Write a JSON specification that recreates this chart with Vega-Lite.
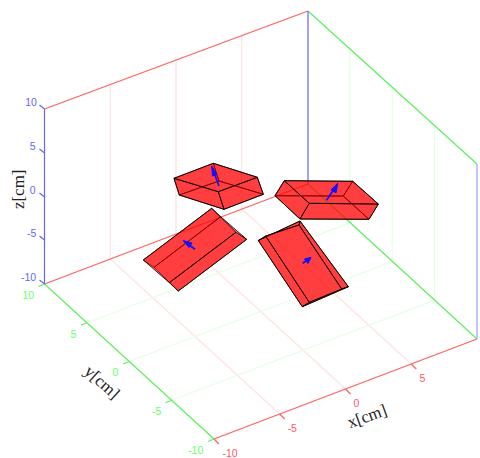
{
"$schema":"https://vega.github.io/schema/vega-lite/v6.json",
"width":480,"height":458,"padding":0,
"autosize":{"type":"fit","contains":"padding"},
"config":{"view":{"stroke":null}},
"background":"white",
"resolve":{"scale":{"color":"independent"}},
"datasets":{
"frame":[
{"id":"gx1","kind":"xgrid","seq":1,"h":279.75,"v":414},{"id":"gx1","kind":"xgrid","seq":2,"h":110.25,"v":259},{"id":"gx1","kind":"xgrid","seq":3,"h":110.25,"v":84},
{"id":"gx2","kind":"xgrid","seq":1,"h":345.5,"v":389},{"id":"gx2","kind":"xgrid","seq":2,"h":176,"v":234},{"id":"gx2","kind":"xgrid","seq":3,"h":176,"v":59},
{"id":"gx3","kind":"xgrid","seq":1,"h":411.25,"v":364},{"id":"gx3","kind":"xgrid","seq":2,"h":241.75,"v":209},{"id":"gx3","kind":"xgrid","seq":3,"h":241.75,"v":34},
{"id":"gy1","kind":"ygrid","seq":1,"h":86.9,"v":322.75},{"id":"gy1","kind":"ygrid","seq":2,"h":349.9,"v":222.75},{"id":"gy1","kind":"ygrid","seq":3,"h":349.9,"v":47.75},
{"id":"gy2","kind":"ygrid","seq":1,"h":129.25,"v":361.5},{"id":"gy2","kind":"ygrid","seq":2,"h":392.25,"v":261.5},{"id":"gy2","kind":"ygrid","seq":3,"h":392.25,"v":86.5},
{"id":"gy3","kind":"ygrid","seq":1,"h":171.6,"v":400.25},{"id":"gy3","kind":"ygrid","seq":2,"h":434.6,"v":300.25},{"id":"gy3","kind":"ygrid","seq":3,"h":434.6,"v":125.25},
{"id":"e1","kind":"xaxis","seq":1,"h":214,"v":439},{"id":"e1","kind":"xaxis","seq":2,"h":477,"v":339},
{"id":"e2","kind":"xaxis","seq":1,"h":44.5,"v":284},{"id":"e2","kind":"xaxis","seq":2,"h":308,"v":184},
{"id":"e3","kind":"xaxis","seq":1,"h":44.5,"v":109},{"id":"e3","kind":"xaxis","seq":2,"h":308,"v":11},
{"id":"e4","kind":"yaxis","seq":1,"h":44.5,"v":284},{"id":"e4","kind":"yaxis","seq":2,"h":214,"v":439},
{"id":"e5","kind":"yaxis","seq":1,"h":308,"v":184},{"id":"e5","kind":"yaxis","seq":2,"h":477,"v":339},
{"id":"e6","kind":"yaxis","seq":1,"h":308,"v":11},{"id":"e6","kind":"yaxis","seq":2,"h":477,"v":164},
{"id":"e7","kind":"zaxis","seq":1,"h":44.5,"v":284},{"id":"e7","kind":"zaxis","seq":2,"h":44.5,"v":109},
{"id":"e8","kind":"zaxis","seq":1,"h":308,"v":184},{"id":"e8","kind":"zaxis","seq":2,"h":308,"v":11},
{"id":"e9","kind":"zedge","seq":1,"h":477,"v":339},{"id":"e9","kind":"zedge","seq":2,"h":477,"v":164},
{"id":"tz1","kind":"zaxis","seq":1,"h":39.5,"v":105},{"id":"tz1","kind":"zaxis","seq":2,"h":44.5,"v":109},
{"id":"tz2","kind":"zaxis","seq":1,"h":39.5,"v":149},{"id":"tz2","kind":"zaxis","seq":2,"h":44.5,"v":153},
{"id":"tz3","kind":"zaxis","seq":1,"h":39.5,"v":193},{"id":"tz3","kind":"zaxis","seq":2,"h":44.5,"v":197},
{"id":"tz4","kind":"zaxis","seq":1,"h":39.5,"v":236},{"id":"tz4","kind":"zaxis","seq":2,"h":44.5,"v":240},
{"id":"tz5","kind":"zaxis","seq":1,"h":39.5,"v":280},{"id":"tz5","kind":"zaxis","seq":2,"h":44.5,"v":284},
{"id":"tx1","kind":"xaxis","seq":1,"h":214,"v":439},{"id":"tx1","kind":"xaxis","seq":2,"h":219,"v":444},
{"id":"tx2","kind":"xaxis","seq":1,"h":279.75,"v":414},{"id":"tx2","kind":"xaxis","seq":2,"h":284.75,"v":419},
{"id":"tx3","kind":"xaxis","seq":1,"h":345.5,"v":389},{"id":"tx3","kind":"xaxis","seq":2,"h":350.5,"v":394},
{"id":"tx4","kind":"xaxis","seq":1,"h":411.25,"v":364},{"id":"tx4","kind":"xaxis","seq":2,"h":416.25,"v":369},
{"id":"ty1","kind":"yaxis","seq":1,"h":44.5,"v":284},{"id":"ty1","kind":"yaxis","seq":2,"h":38.5,"v":286.5},
{"id":"ty2","kind":"yaxis","seq":1,"h":86.9,"v":322.75},{"id":"ty2","kind":"yaxis","seq":2,"h":80.9,"v":325.25},
{"id":"ty3","kind":"yaxis","seq":1,"h":129.25,"v":361.5},{"id":"ty3","kind":"yaxis","seq":2,"h":123.25,"v":364},
{"id":"ty4","kind":"yaxis","seq":1,"h":171.6,"v":400.25},{"id":"ty4","kind":"yaxis","seq":2,"h":165.6,"v":402.75},
{"id":"ty5","kind":"yaxis","seq":1,"h":214,"v":439},{"id":"ty5","kind":"yaxis","seq":2,"h":208,"v":441.5}
],
"faces":[
{"id":"a1","seq":1,"h":174,"v":178.3},{"id":"a1","seq":2,"h":213.3,"v":163.3},{"id":"a1","seq":3,"h":219,"v":181},{"id":"a1","seq":4,"h":179.3,"v":195},{"id":"a1","seq":5,"h":174,"v":178.3},
{"id":"a2","seq":1,"h":213.3,"v":163.3},{"id":"a2","seq":2,"h":257.3,"v":177.3},{"id":"a2","seq":3,"h":263.3,"v":194.3},{"id":"a2","seq":4,"h":219,"v":181},{"id":"a2","seq":5,"h":213.3,"v":163.3},
{"id":"a3","seq":1,"h":179.3,"v":195},{"id":"a3","seq":2,"h":219,"v":181},{"id":"a3","seq":3,"h":263.3,"v":194.3},{"id":"a3","seq":4,"h":224,"v":209.3},{"id":"a3","seq":5,"h":179.3,"v":195},
{"id":"a4","seq":1,"h":174,"v":178.3},{"id":"a4","seq":2,"h":218.3,"v":191.7},{"id":"a4","seq":3,"h":224,"v":209.3},{"id":"a4","seq":4,"h":179.3,"v":195},{"id":"a4","seq":5,"h":174,"v":178.3},
{"id":"a5","seq":1,"h":218.3,"v":191.7},{"id":"a5","seq":2,"h":257.3,"v":177.3},{"id":"a5","seq":3,"h":263.3,"v":194.3},{"id":"a5","seq":4,"h":224,"v":209.3},{"id":"a5","seq":5,"h":218.3,"v":191.7},
{"id":"a6","seq":1,"h":174,"v":178.3},{"id":"a6","seq":2,"h":213.3,"v":163.3},{"id":"a6","seq":3,"h":257.3,"v":177.3},{"id":"a6","seq":4,"h":218.3,"v":191.7},{"id":"a6","seq":5,"h":174,"v":178.3},

{"id":"b1","seq":1,"h":178.3,"v":291},{"id":"b1","seq":2,"h":154,"v":267.3},{"id":"b1","seq":3,"h":220.7,"v":216.7},{"id":"b1","seq":4,"h":246.7,"v":239.3},{"id":"b1","seq":5,"h":178.3,"v":291},
{"id":"b2","seq":1,"h":154,"v":267.3},{"id":"b2","seq":2,"h":143.3,"v":260},{"id":"b2","seq":3,"h":211.7,"v":208.3},{"id":"b2","seq":4,"h":220.7,"v":216.7},{"id":"b2","seq":5,"h":154,"v":267.3},
{"id":"b3","seq":1,"h":143.3,"v":260},{"id":"b3","seq":2,"h":169.3,"v":282.7},{"id":"b3","seq":3,"h":236,"v":232.3},{"id":"b3","seq":4,"h":211.7,"v":208.3},{"id":"b3","seq":5,"h":143.3,"v":260},
{"id":"b4","seq":1,"h":169.3,"v":282.7},{"id":"b4","seq":2,"h":178.3,"v":291},{"id":"b4","seq":3,"h":246.7,"v":239.3},{"id":"b4","seq":4,"h":236,"v":232.3},{"id":"b4","seq":5,"h":169.3,"v":282.7},

{"id":"c1","seq":1,"h":275,"v":195.7},{"id":"c1","seq":2,"h":343.3,"v":196},{"id":"c1","seq":3,"h":369,"v":219.3},{"id":"c1","seq":4,"h":300,"v":219},{"id":"c1","seq":5,"h":275,"v":195.7},
{"id":"c2","seq":1,"h":284.3,"v":180.7},{"id":"c2","seq":2,"h":275,"v":195.7},{"id":"c2","seq":3,"h":343.3,"v":196},{"id":"c2","seq":4,"h":352.7,"v":181.3},{"id":"c2","seq":5,"h":284.3,"v":180.7},
{"id":"c3","seq":1,"h":352.7,"v":181.3},{"id":"c3","seq":2,"h":343.3,"v":196},{"id":"c3","seq":3,"h":369,"v":219.3},{"id":"c3","seq":4,"h":378.3,"v":204},{"id":"c3","seq":5,"h":352.7,"v":181.3},
{"id":"c4","seq":1,"h":284.3,"v":180.7},{"id":"c4","seq":2,"h":309.3,"v":203.3},{"id":"c4","seq":3,"h":300,"v":219},{"id":"c4","seq":4,"h":275,"v":195.7},{"id":"c4","seq":5,"h":284.3,"v":180.7},
{"id":"c5","seq":1,"h":309.3,"v":203.3},{"id":"c5","seq":2,"h":378.3,"v":204},{"id":"c5","seq":3,"h":369,"v":219.3},{"id":"c5","seq":4,"h":300,"v":219},{"id":"c5","seq":5,"h":309.3,"v":203.3},
{"id":"c6","seq":1,"h":284.3,"v":180.7},{"id":"c6","seq":2,"h":352.7,"v":181.3},{"id":"c6","seq":3,"h":378.3,"v":204},{"id":"c6","seq":4,"h":309.3,"v":203.3},{"id":"c6","seq":5,"h":284.3,"v":180.7},

{"id":"d1","seq":1,"h":258.3,"v":240.5},{"id":"d1","seq":2,"h":300,"v":221},{"id":"d1","seq":3,"h":348.3,"v":286.7},{"id":"d1","seq":4,"h":302.3,"v":306.7},{"id":"d1","seq":5,"h":258.3,"v":240.5},
{"id":"d2","seq":1,"h":258.3,"v":240.5},{"id":"d2","seq":2,"h":265.7,"v":236},{"id":"d2","seq":3,"h":309.3,"v":302.3},{"id":"d2","seq":4,"h":302.3,"v":306.7},{"id":"d2","seq":5,"h":258.3,"v":240.5},
{"id":"d3","seq":1,"h":300,"v":221},{"id":"d3","seq":2,"h":299,"v":225},{"id":"d3","seq":3,"h":341.7,"v":289},{"id":"d3","seq":4,"h":348.3,"v":286.7},{"id":"d3","seq":5,"h":300,"v":221},
{"id":"d4","seq":1,"h":258.3,"v":240.5},{"id":"d4","seq":2,"h":300,"v":221},{"id":"d4","seq":3,"h":299,"v":225},{"id":"d4","seq":4,"h":265.7,"v":236},{"id":"d4","seq":5,"h":258.3,"v":240.5},
{"id":"d5","seq":1,"h":302.3,"v":306.7},{"id":"d5","seq":2,"h":348.3,"v":286.7},{"id":"d5","seq":3,"h":341.7,"v":289},{"id":"d5","seq":4,"h":309.3,"v":302.3},{"id":"d5","seq":5,"h":302.3,"v":306.7},
{"id":"d6","seq":1,"h":265.7,"v":236},{"id":"d6","seq":2,"h":299,"v":225},{"id":"d6","seq":3,"h":341.7,"v":289},{"id":"d6","seq":4,"h":309.3,"v":302.3},{"id":"d6","seq":5,"h":265.7,"v":236}
],
"arrows":[
{"id":"s1","seq":1,"h":219,"v":186},{"id":"s1","seq":2,"h":212,"v":167},
{"id":"s2","seq":1,"h":195,"v":249.3},{"id":"s2","seq":2,"h":184,"v":241},
{"id":"s3","seq":1,"h":326.7,"v":200},{"id":"s3","seq":2,"h":337.5,"v":184},
{"id":"s4","seq":1,"h":302.7,"v":263.3},{"id":"s4","seq":2,"h":310.5,"v":258}
],
"heads":[
{"id":"h1","seq":1,"h":211.7,"v":166},{"id":"h1","seq":2,"h":217,"v":174.5},{"id":"h1","seq":3,"h":212.5,"v":176},{"id":"h1","seq":4,"h":211.7,"v":166},
{"id":"h2","seq":1,"h":183.3,"v":240.7},{"id":"h2","seq":2,"h":192,"v":243},{"id":"h2","seq":3,"h":189,"v":247.5},{"id":"h2","seq":4,"h":183.3,"v":240.7},
{"id":"h3","seq":1,"h":337.7,"v":183.3},{"id":"h3","seq":2,"h":336,"v":193},{"id":"h3","seq":3,"h":331,"v":190},{"id":"h3","seq":4,"h":337.7,"v":183.3},
{"id":"h4","seq":1,"h":311,"v":257.3},{"id":"h4","seq":2,"h":308,"v":263.5},{"id":"h4","seq":3,"h":304.5,"v":259},{"id":"h4","seq":4,"h":311,"v":257.3}
],
"labels":[
{"label":"10","kind":"z","h":31,"v":103},{"label":"5","kind":"z","h":32.7,"v":147},{"label":"0","kind":"z","h":32.7,"v":191},{"label":"-5","kind":"z","h":31.7,"v":234},{"label":"-10","kind":"z","h":28.5,"v":278},
{"label":"10","kind":"y","h":28.3,"v":296},{"label":"5","kind":"y","h":73.3,"v":334.5},{"label":"0","kind":"y","h":115.3,"v":373},{"label":"-5","kind":"y","h":156.7,"v":411.5},{"label":"-10","kind":"y","h":195.7,"v":450.5},
{"label":"-10","kind":"x","h":230,"v":453.7},{"label":"-5","kind":"x","h":292.3,"v":429},{"label":"0","kind":"x","h":356.3,"v":404.3},{"label":"5","kind":"x","h":422.3,"v":379.3}
]
},
"encoding":{
"x":{"field":"h","type":"quantitative","scale":{"domain":[0,480],"range":[0,480],"nice":false,"zero":false},"axis":null},
"y":{"field":"v","type":"quantitative","scale":{"domain":[458,0],"range":[458,0],"nice":false,"zero":false},"axis":null}
},
"layer":[
{"data":{"name":"frame"},
 "mark":{"type":"line","strokeWidth":1.2,"interpolate":"linear"},
 "encoding":{"detail":{"field":"id"},"order":{"field":"seq","type":"quantitative"},
  "color":{"field":"kind","type":"nominal","legend":null,"scale":{"domain":["xgrid","ygrid","xaxis","yaxis","zaxis","zedge"],"range":["#ffe2e2","#e4ffe4","#ff6060","#5cf05c","#6464ff","#9c9cff"]}}}},
{"data":{"name":"faces"},
 "mark":{"type":"line","fill":"#ff0000","fillOpacity":0.5,"stroke":"#000000","strokeOpacity":0.8,"strokeWidth":1,"strokeJoin":"round"},
 "encoding":{"detail":{"field":"id"},"order":{"field":"seq","type":"quantitative"}}},
{"data":{"name":"arrows"},
 "mark":{"type":"line","stroke":"#1010ff","strokeWidth":1.7},
 "encoding":{"detail":{"field":"id"},"order":{"field":"seq","type":"quantitative"}}},
{"data":{"name":"heads"},
 "mark":{"type":"line","fill":"#1010ff","stroke":"#1010ff","strokeWidth":1},
 "encoding":{"detail":{"field":"id"},"order":{"field":"seq","type":"quantitative"}}},
{"data":{"name":"labels"},
 "mark":{"type":"text","font":"Liberation Sans","fontSize":10.5,"align":"center","baseline":"middle"},
 "encoding":{"text":{"field":"label"},
  "color":{"field":"kind","type":"nominal","legend":null,"scale":{"domain":["x","y","z"],"range":["#ff5a6a","#66ff66","#6666ff"]}}}},
{"data":{"values":[{"title":"x[cm]","h":367.3,"v":416.7}]},
 "mark":{"type":"text","font":"Liberation Serif","fontSize":17,"angle":340,"align":"center","baseline":"middle","color":"#222222"},
 "encoding":{"text":{"field":"title"}}},
{"data":{"values":[{"title":"y[cm]","h":101.7,"v":382.7}]},
 "mark":{"type":"text","font":"Liberation Serif","fontSize":17,"angle":42,"align":"center","baseline":"middle","color":"#222222"},
 "encoding":{"text":{"field":"title"}}},
{"data":{"values":[{"title":"z[cm]","h":19.3,"v":189.3}]},
 "mark":{"type":"text","font":"Liberation Serif","fontSize":17,"angle":270,"align":"center","baseline":"middle","color":"#222222"},
 "encoding":{"text":{"field":"title"}}}
]
}
